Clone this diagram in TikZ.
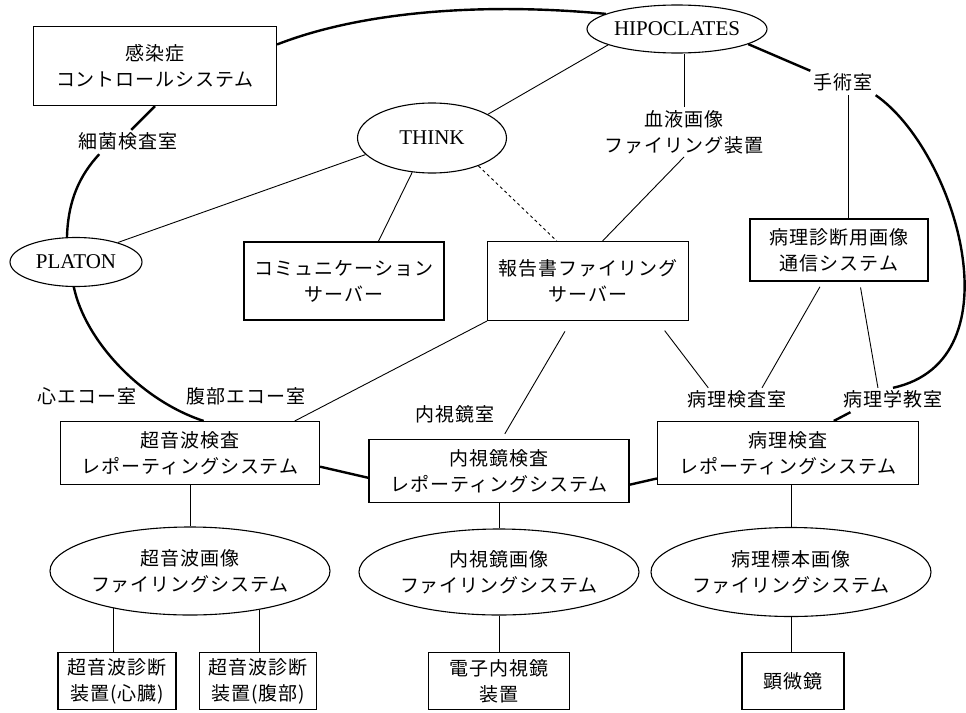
\documentclass[tikz,border=0pt]{standalone}
\usepackage{fontspec}
\setmainfont{Liberation Serif}
\newfontfamily\jp[LetterSpace=5]{Noto Sans CJK JP}
\usetikzlibrary{shapes.geometric}

\begin{document}
\begin{tikzpicture}[x=1pt,y=-1pt,
  every node/.style={font=\jp\fontsize{19}{26}\selectfont, align=center, inner sep=0pt},
  boxnode/.style={draw, line width=1.1pt, rectangle},
  ellnode/.style={draw, line width=1.1pt, ellipse},
  latin/.style={font=\fontsize{21}{24}\selectfont},
  lbl/.style={inner sep=3pt, text height=15pt, text depth=3pt},
  ring/.style={line width=2.4pt},
  thin/.style={line width=0.9pt},
]
\useasboundingbox (0,0) rectangle (966,712);

% upper nodes
\node[boxnode, minimum width=243pt, minimum height=79pt] (kansen) at (155,66) {感染症\\コントロールシステム};
\node[ellnode, latin, minimum width=180pt, minimum height=48pt] (hipo) at (677,29) {HIPOCLATES};
\node[ellnode, latin, minimum width=149pt, minimum height=70pt] (think) at (432,138) {THINK};
\node[ellnode, latin, minimum width=132pt, minimum height=49pt] (platon) at (76,262) {PLATON};
\node[boxnode, minimum width=200pt, minimum height=78pt] (comm) at (344,281) {コミュニケーション\\サーバー};
\node[boxnode, minimum width=201pt, minimum height=79pt] (report) at (588,281) {報告書ファイリング\\サーバー};
\node[boxnode, minimum width=178pt, minimum height=62pt] (pdiag) at (839,250) {病理診断用画像\\通信システム};

% labels
\node[inner sep=3pt] (ketsueki) at (684,132) {血液画像\\ファイリング装置};
\node[lbl] (shujutsu) at (843,83) {手術室};
\node[lbl] (saikin) at (128,142) {細菌検査室};
\node[lbl] (shinecho) at (87,397) {心エコー室};
\node[lbl] (fukuecho) at (246,397) {腹部エコー室};
\node[lbl] (endoroom) at (455,415) {内視鏡室};
\node[lbl] (pathroom) at (737,400) {病理検査室};
\node[lbl] (pathclass) at (893,400) {病理学教室};

% reporting systems
\node[boxnode, minimum width=259pt, minimum height=63pt] (us) at (190,453) {超音波検査\\レポーティングシステム};
\node[boxnode, minimum width=260pt, minimum height=63pt] (endo) at (499,471) {内視鏡検査\\レポーティングシステム};
\node[boxnode, minimum width=261pt, minimum height=63pt] (patho) at (788,453) {病理検査\\レポーティングシステム};

% filing systems
\node[ellnode, minimum width=251pt, minimum height=88pt] (usell) at (190,571) {超音波画像\\ファイリングシステム};
\node[ellnode, minimum width=252pt, minimum height=86pt] (endoell) at (499,572) {内視鏡画像\\ファイリングシステム};
\node[ellnode, minimum width=252pt, minimum height=89pt] (pathoell) at (791,572) {病理標本画像\\ファイリングシステム};

% devices
\node[boxnode, minimum width=118pt, minimum height=57pt] (dev1) at (117,681) {超音波診断\\装置(心臓)};
\node[boxnode, minimum width=117pt, minimum height=57pt] (dev2) at (258,681) {超音波診断\\装置(腹部)};
\node[boxnode, minimum width=141pt, minimum height=57pt] (dev3) at (499,681) {電子内視鏡\\装置};
\node[boxnode, minimum width=102pt, minimum height=57pt] (micro) at (793,681) {顕微鏡};

% ring (thick)
\draw[ring] (kansen.10) .. controls (360,12) and (480,2) .. (hipo.168);
\draw[ring] (hipo.-12) -- (shujutsu.north west);
\draw[ring] (shujutsu.south east) .. controls (955,150) and (1020,360) .. (pathclass.north);
\draw[ring] (pathclass.196) -- (patho.35);
\draw[ring] (patho.191) -- (endo.-6);
\draw[ring] (endo.183) -- (us.-6);
\draw[ring] (us.67) .. controls (140,400) and (85,340) .. (platon.265);
\draw[ring] (platon.110) .. controls (68,200) and (80,175) .. (saikin.203);
\draw[ring] (saikin.75) -- (kansen.south);

% thin connectors
\draw[thin] (hipo.193) -- (think.23);
\draw[thin] (ketsueki.north) -- (ketsueki.north |- hipo.south);
\draw[thin] (ketsueki.south) -- (report.70);
\draw[thin] (think.194) -- (platon.25);
\draw[thin] (think.240) -- (comm.49);
\draw[thin, dashed] (think.-31) -- (report.128);
\draw[thin] (report.south west) -- (us.17);
\draw[thin, shorten <=12pt, shorten >=6pt] (report.247) -- (endo.85);
\draw[thin, shorten <=12pt] (report.-30) -- (pathroom.157);
\draw[thin, shorten <=6pt] (pdiag.243) -- (pathroom.26);
\draw[thin, shorten <=6pt] (pdiag.303) -- (pathclass.141);
\draw[thin] ([xshift=5pt]shujutsu.south) -- ([xshift=5pt]shujutsu.south |- pdiag.north);

\draw[thin] (us.south) -- (usell.north);
\draw[thin] (endo.south) -- (endoell.north);
\draw[thin] (pathoell.north) -- (pathoell.north |- patho.south);
\draw[thin] (usell.206) -- (usell.206 |- dev1.north);
\draw[thin] (usell.331) -- (usell.331 |- dev2.north);
\draw[thin] (endoell.south) -- (dev3.north);
\draw[thin] (pathoell.south) -- (pathoell.south |- micro.north);
\end{tikzpicture}
\end{document}
